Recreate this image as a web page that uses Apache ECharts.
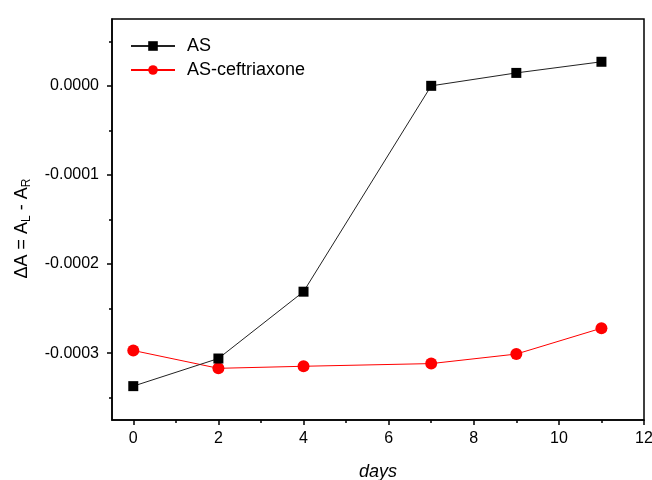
<!DOCTYPE html>
<html>
<head>
<meta charset="utf-8">
<script src="https://cdn.jsdelivr.net/npm/echarts@6/dist/echarts.min.js"></script>
<style>html,body{margin:0;padding:0;background:#fff}#c{width:652px;height:480px}</style>
</head>
<body>
<div id="c"></div>
<script>
var days = [0, 2, 4, 7, 9, 11];
var asValues = [-0.000337, -0.000306, -0.000231, 0.0000, 0.0000145, 0.000027];
var asCeftValues = [-0.000297, -0.000317, -0.0003147, -0.0003117, -0.000301, -0.000272];
var xMajorTicks = [0, 2, 4, 6, 8, 10, 12];
var xMinorTicks = [1, 3, 5, 7, 9, 11];
var yMajorTicks = [-0.0003, -0.0002, -0.0001, 0];
var yMinorTicks = [-0.00035, -0.00025, -0.00015, -0.00005, 0.00005];
var seriesNames = ['AS', 'AS-ceftriaxone'];

var FONT = 'Liberation Sans, Arial, sans-serif';
function pairs(xs, ys){ return xs.map(function(x,i){ return [x, ys[i]]; }); }

var chart = echarts.init(document.getElementById('c'));
var xMin = -0.5, xMax = 12, yMin = -0.000375, yMax = 0.000075;
chart.setOption({
  animation: false,
  backgroundColor: '#fff',
  grid: { left: 112, right: 8, top: 19, bottom: 60, outerBoundsMode: 'none', containLabel: false,
    show: true, borderColor: '#000', borderWidth: 1.5, backgroundColor: 'transparent' },
  legend: {
    orient: 'vertical', left: 125, top: 32, itemWidth: 44, itemHeight: 12, itemGap: 6,
    textStyle: { fontFamily: FONT, fontSize: 18, color: '#000', padding: [0, 0, 0, 7] },
    data: seriesNames
  },
  xAxis: [{
    type: 'value', min: xMin, max: xMax,
    name: 'days', nameLocation: 'middle', nameGap: 43,
    nameTextStyle: { fontFamily: FONT, fontSize: 18, fontStyle: 'italic', color: '#000' },
    axisLine: { show: true, onZero: false, lineStyle: { color: '#000', width: 1.5 } },
    axisTick: { show: true, customValues: xMajorTicks, length: 5, lineStyle: { color: '#000', width: 1.5 } },
    axisLabel: { customValues: xMajorTicks, fontFamily: FONT, fontSize: 16, color: '#000', margin: 11 },
    splitLine: { show: false }
  }, {
    type: 'value', min: xMin, max: xMax, position: 'bottom',
    axisLine: { show: false, onZero: false },
    axisTick: { show: true, customValues: xMinorTicks, length: 3, lineStyle: { color: '#000', width: 1.5 } },
    axisLabel: { show: false }, splitLine: { show: false }
  }],
  yAxis: [{
    type: 'value', min: yMin, max: yMax,
    name: '{a|ΔA = A}{s|L}{a| - A}{s|R}', nameLocation: 'middle', nameGap: 79,
    nameTextStyle: { fontFamily: FONT, color: '#000', padding: [0, 18, 0, 0], rich: {
      a: { fontFamily: FONT, fontSize: 18, color: '#000' },
      s: { fontFamily: FONT, fontSize: 12, color: '#000', verticalAlign: 'bottom', padding: [9, 0, 0, 0] }
    } },
    axisLine: { show: true, onZero: false, lineStyle: { color: '#000', width: 1.5 } },
    axisTick: { show: true, customValues: yMajorTicks, length: 5, lineStyle: { color: '#000', width: 1.5 } },
    axisLabel: { customValues: yMajorTicks, fontFamily: FONT, fontSize: 16, color: '#000', margin: 13,
      formatter: function(v){ return v.toFixed(4).replace('-0.0000', '0.0000'); } },
    splitLine: { show: false }
  }, {
    type: 'value', min: yMin, max: yMax, position: 'left',
    axisLine: { show: false, onZero: false },
    axisTick: { show: true, customValues: yMinorTicks, length: 3, lineStyle: { color: '#000', width: 1.5 } },
    axisLabel: { show: false }, splitLine: { show: false }
  }],
  series: [{
    name: seriesNames[0], type: 'line', data: pairs(days, asValues),
    symbol: 'rect', symbolSize: 10,
    itemStyle: { color: '#000' }, lineStyle: { color: '#222', width: 1 }, z: 3
  }, {
    name: seriesNames[1], type: 'line', data: pairs(days, asCeftValues),
    symbol: 'circle', symbolSize: 12,
    itemStyle: { color: '#ff0000' }, lineStyle: { color: '#ff0000', width: 1 }, z: 2
  }]
});
</script>
</body>
</html>
